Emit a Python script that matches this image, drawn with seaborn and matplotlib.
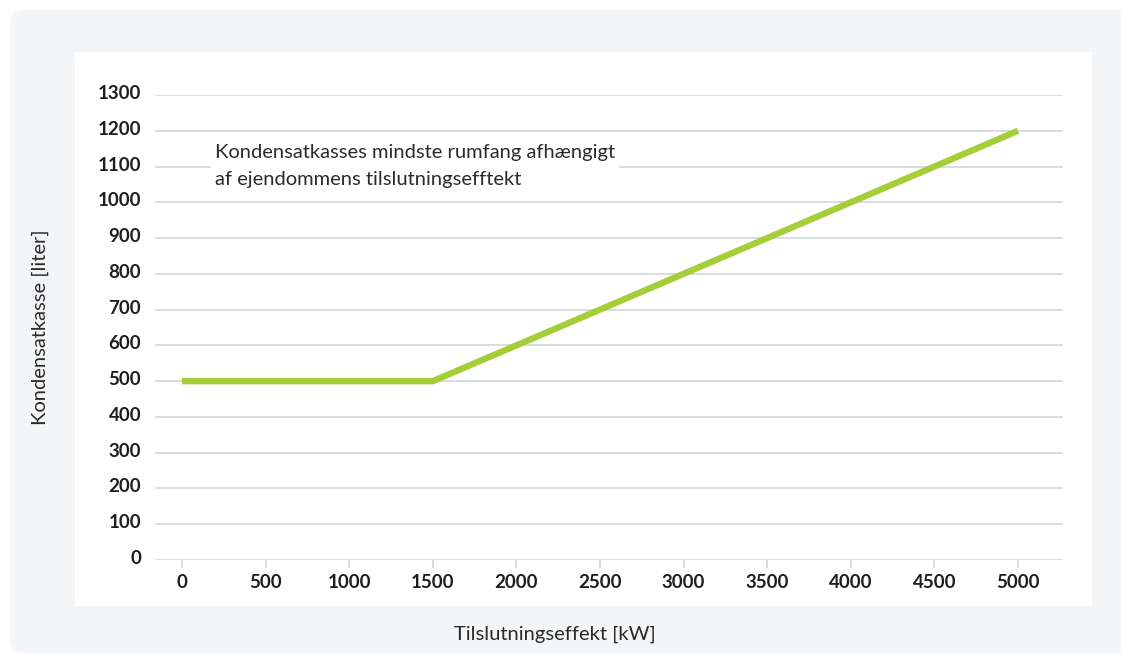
import matplotlib
matplotlib.use("Agg")
import matplotlib.pyplot as plt
import matplotlib.transforms as mtransforms
import seaborn as sns
import pandas as pd
from matplotlib.patches import FancyBboxPatch, Rectangle

# Data
effekt_kw = [0, 1500, 5000]
rumfang_liter = [500, 500, 1200]
x_ticks = [0, 500, 1000, 1500, 2000, 2500, 3000, 3500, 4000, 4500, 5000]
y_ticks = [0, 100, 200, 300, 400, 500, 600, 700, 800, 900, 1000, 1100, 1200, 1300]
x_label = "Tilslutningseffekt [kW]"
y_label = "Kondensatkasse [liter]"
note = "Kondensatkasses mindste rumfang afhængigt\naf ejendommens tilslutningsefftekt"

df = pd.DataFrame({"x": effekt_kw, "y": rumfang_liter})

sns.set_theme(style="white")
plt.rcParams['font.family'] = ['Lato', 'DejaVu Sans']

W, H = 1121, 653
fig = plt.figure(figsize=(W / 100, H / 100), dpi=100)
fig.patch.set_facecolor("white")

gray = "#f4f5f7"
# outer gray panel (rounded top-left)
fig.patches.append(FancyBboxPatch((10 / W, 0), (1111 - 10) / W, (643 - 0) / H,
                                  boxstyle="round,pad=0,rounding_size=0.012",
                                  transform=fig.transFigure, facecolor=gray,
                                  edgecolor="none", zorder=0, mutation_aspect=W / H))
fig.patches.append(Rectangle((20 / W, 0), (1121 - 20) / W, (643 - 20) / H,
                             transform=fig.transFigure, facecolor=gray,
                             edgecolor="none", zorder=0))
fig.patches.append(Rectangle((600 / W, 0), (1121 - 600) / W, 1 - 10 / H,
                             transform=fig.transFigure, facecolor=gray,
                             edgecolor="none", zorder=0))
# inner white panel
fig.patches.append(Rectangle((75 / W, (H - 606) / H), (1092 - 75) / W, (606 - 52) / H,
                             transform=fig.transFigure, facecolor="white",
                             edgecolor="none", zorder=0.5))

ax = fig.add_axes([155 / W, (H - 560) / H, (1063 - 155) / W, (560 - 95) / H])
ax.set_zorder(3)
ax.set_facecolor("none")

sns.lineplot(data=df, x="x", y="y", ax=ax, color="#a6ce39", linewidth=4.6,
             solid_capstyle="butt", zorder=3)

ax.set_xlim(-161, 5269)
ax.set_ylim(0, 1300)
ax.set_xticks(x_ticks)
ax.set_yticks(y_ticks)
grid_c = "#d6dbe1"
ax.yaxis.grid(True, color=grid_c, linewidth=1.3)
ax.xaxis.grid(False)
for s in ax.spines.values():
    s.set_visible(False)

ax.tick_params(axis="x", bottom=True, length=6, width=1.3, color=grid_c, pad=4,
               labelsize=13.5, labelcolor="#1e1e1e")
ax.tick_params(axis="y", left=False, length=0, pad=10, labelsize=13.5, labelcolor="#1e1e1e")
offset = mtransforms.ScaledTranslation(0, 3 / 100, fig.dpi_scale_trans)
for lab in ax.get_xticklabels():
    lab.set_fontweight("bold")
for lab in ax.get_yticklabels():
    lab.set_fontweight("bold")
    lab.set_transform(lab.get_transform() + offset)

ax.set_xlabel("")
ax.set_ylabel("")
fig.text(555 / W, 1 - 634 / H, x_label, ha="center", va="center",
         fontsize=14.5, color="#2b2b2b")
fig.text(40 / W, 1 - 327 / H, y_label, ha="center", va="center", rotation=90,
         fontsize=14.5, color="#2b2b2b")

ax.text(215 / W, 1 - 166 / H, note, transform=fig.transFigure, ha="left", va="center",
        fontsize=14.5, color="#2b2b2b", linespacing=1.7,
        bbox=dict(facecolor="white", edgecolor="none", pad=3), zorder=5)

fig.savefig("out.png", dpi=100, facecolor=fig.get_facecolor())
